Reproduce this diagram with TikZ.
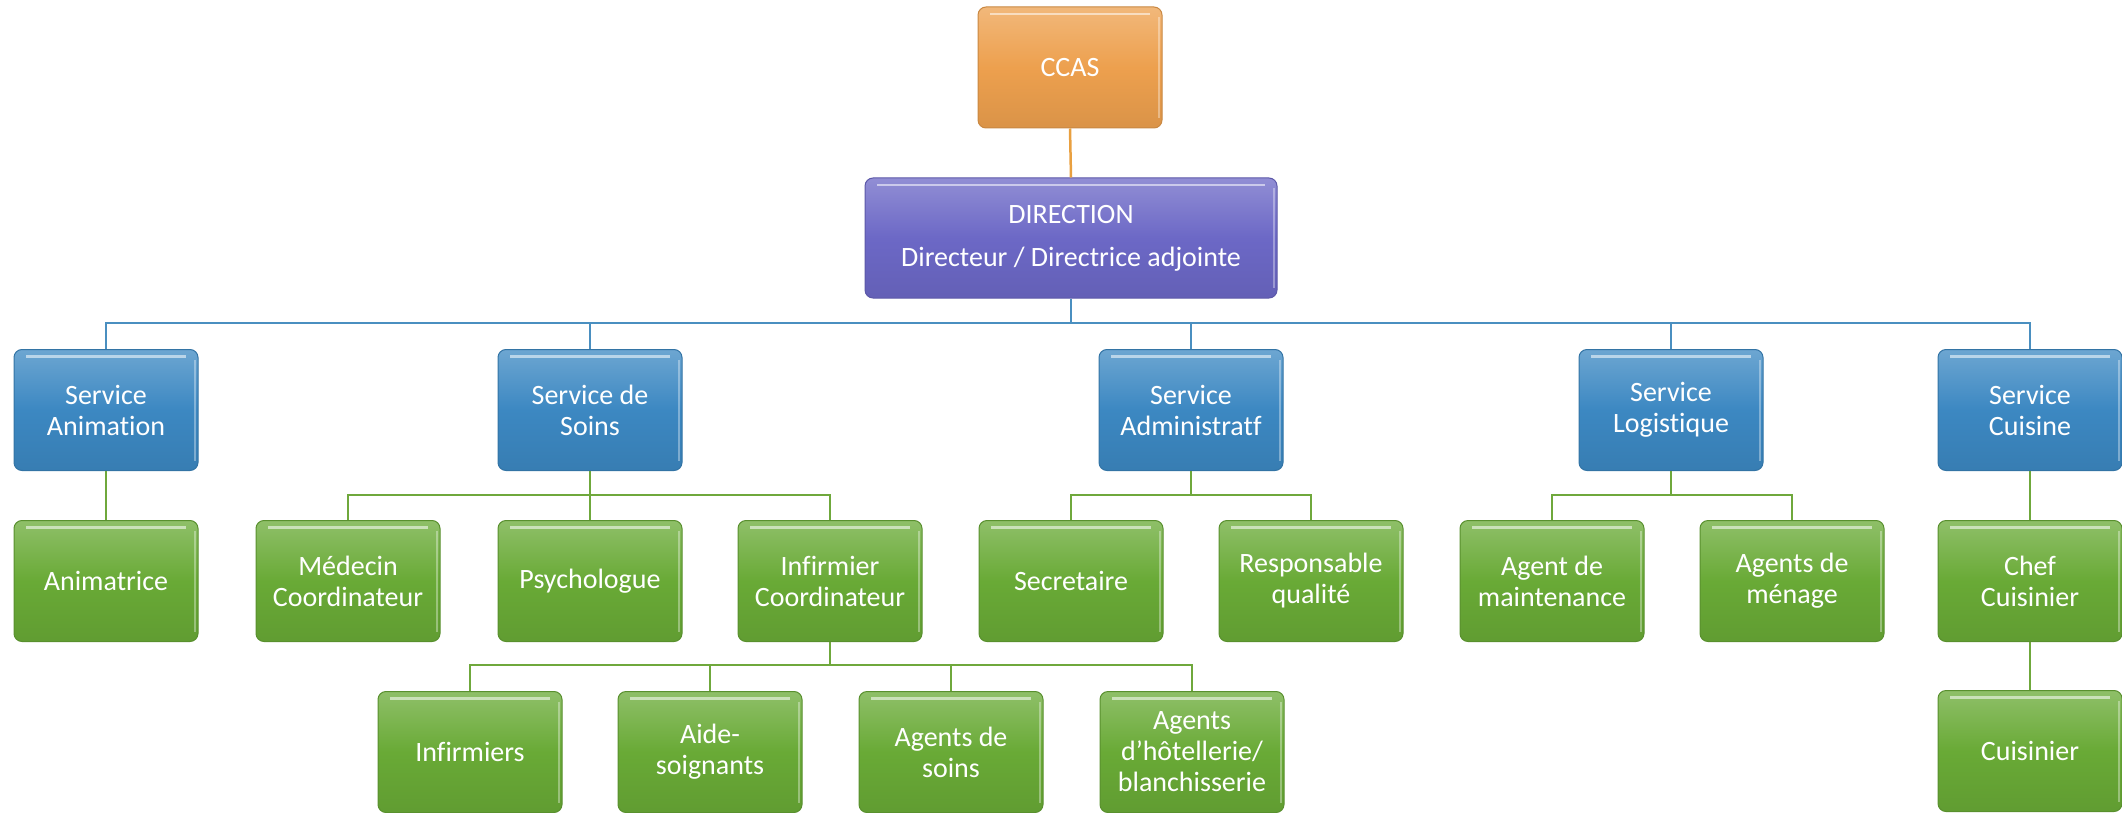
\documentclass[tikz,border=0pt]{standalone}
\usepackage{fontspec}
\setmainfont{Carlito}[Ligatures={ResetAll,NoCommon}]
\newcommand{\brk}{\kern0pt{}}
\definecolor{ccasorange}{HTML}{EDA04E}
\definecolor{dirpurple}{HTML}{6C68C6}
\definecolor{servblue}{HTML}{3C88C2}
\definecolor{staffgreen}{HTML}{69AA36}
\definecolor{lineblue}{HTML}{4A8FC0}
\definecolor{linegreen}{HTML}{6FA83C}
\definecolor{lineorange}{HTML}{E9A040}
\tikzset{
  box/.style={rounded corners=8pt, minimum width=184pt, minimum height=121pt,
    inner sep=0pt, text=white, align=center,
    font=\fontsize{28}{31}\selectfont,
    draw=#1!85!black, line width=1pt,
    top color=#1!75!white, bottom color=#1!92!black, middle color=#1,
    path picture={
      \draw[white, opacity=0.55, line width=2.5pt]
        ([xshift=12pt,yshift=-7pt]path picture bounding box.north west) --
        ([xshift=-12pt,yshift=-7pt]path picture bounding box.north east);
      \draw[white, opacity=0.35, line width=2pt]
        ([xshift=-3pt,yshift=-10pt]path picture bounding box.north east) --
        ([xshift=-3pt,yshift=10pt]path picture bounding box.south east);
    }},
  conn/.style={line width=2.5pt, draw=#1},
}
\begin{document}
\begin{tikzpicture}[x=1pt, y=-1pt]
\useasboundingbox (0,0) rectangle (2122,813);
% level 0 and 1
\node[box=ccasorange] (ccas) at (1070,67.5) {CCAS};
\node[box=dirpurple, minimum width=412pt, minimum height=120pt] (dir) at (1071,238)
  {DIRECTION\\[12pt]Directeur / Directrice adjointe};
% services
\node[box=servblue] (anim) at (106,410) {Service\\Animat\brk ion};
\node[box=servblue] (soins) at (590,410) {Service de\\Soins};
\node[box=servblue] (admin) at (1191,410) {Service\\Administrat\brk f};
\node[box=servblue] (logi) at (1671,410) {Service\\Logist\brk ique};
\node[box=servblue] (cuis) at (2030,410) {Service\\Cuisine};
% staff row
\node[box=staffgreen] (animatrice) at (106,581) {Animatrice};
\node[box=staffgreen] (med) at (348,581) {Médecin\\Coordinateur};
\node[box=staffgreen] (psy) at (590,581) {Psychologue};
\node[box=staffgreen] (infc) at (830,581) {Infirmier\\Coordinateur};
\node[box=staffgreen] (secr) at (1071,581) {Secretaire};
\node[box=staffgreen] (resp) at (1311,581) {Responsable\\qualité};
\node[box=staffgreen] (maint) at (1552,581) {Agent de\\maintenance};
\node[box=staffgreen] (menage) at (1792,581) {Agents de\\ménage};
\node[box=staffgreen] (chef) at (2030,581) {Chef\\Cuisinier};
% third row
\node[box=staffgreen] (infs) at (470,752) {Infirmiers};
\node[box=staffgreen] (aide) at (710,752) {Aide-\\soignants};
\node[box=staffgreen] (agsoins) at (951,752) {Agents de\\soins};
\node[box=staffgreen] (hotel) at (1192,752) {Agents\\d'hôtellerie/\\blanchisserie};
\node[box=staffgreen] (cuisinier) at (2030,751) {Cuisinier};
% bus coordinates
\coordinate (busA) at (0,323);
\coordinate (busB) at (0,495);
\coordinate (busC) at (0,665);
% connectors
\draw[conn=lineorange] (ccas.south) -- (dir.north);
\draw[conn=lineblue] (dir.south) -- (dir.south |- busA);
\draw[conn=lineblue] (anim.north) -- (anim.north |- busA) -- (cuis.north |- busA) -- (cuis.north);
\draw[conn=lineblue] (soins.north) -- (soins.north |- busA);
\draw[conn=lineblue] (admin.north) -- (admin.north |- busA);
\draw[conn=lineblue] (logi.north) -- (logi.north |- busA);
\draw[conn=linegreen] (anim.south) -- (animatrice.north);
\draw[conn=linegreen] (soins.south) -- (soins.south |- busB);
\draw[conn=linegreen] (med.north) -- (med.north |- busB) -- (infc.north |- busB) -- (infc.north);
\draw[conn=linegreen] (psy.north) -- (psy.north |- busB);
\draw[conn=linegreen] (admin.south) -- (admin.south |- busB);
\draw[conn=linegreen] (secr.north) -- (secr.north |- busB) -- (resp.north |- busB) -- (resp.north);
\draw[conn=linegreen] (logi.south) -- (logi.south |- busB);
\draw[conn=linegreen] (maint.north) -- (maint.north |- busB) -- (menage.north |- busB) -- (menage.north);
\draw[conn=linegreen] (cuis.south) -- (chef.north);
\draw[conn=linegreen] (chef.south) -- (cuisinier.north);
\draw[conn=linegreen] (infc.south) -- (infc.south |- busC);
\draw[conn=linegreen] (infs.north) -- (infs.north |- busC) -- (hotel.north |- busC) -- (hotel.north);
\draw[conn=linegreen] (aide.north) -- (aide.north |- busC);
\draw[conn=linegreen] (agsoins.north) -- (agsoins.north |- busC);
\end{tikzpicture}
\end{document}
